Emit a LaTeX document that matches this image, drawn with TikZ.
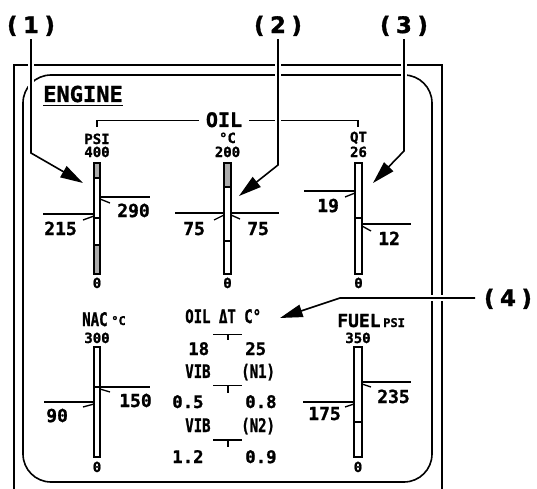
\documentclass[tikz,border=0pt]{standalone}
\usepackage{fontspec}
\newfontfamily\panelfont[BoldFeatures={FakeBold=1.2}]{DejaVu Sans Mono}
\newfontfamily\panelnarrow[FakeStretch=0.75,BoldFeatures={FakeBold=1.2}]{DejaVu Sans Mono}
\newfontfamily\labfont[BoldFeatures={FakeBold=1.5}]{DejaVu Sans}
\usetikzlibrary{arrows.meta}
\begin{document}
\begin{tikzpicture}[x=0.75pt,y=-0.75pt,
  fr/.style={line width=1.2pt},
  thin/.style={line width=1pt},
  halo/.style={draw=white,line width=5pt},
  leader/.style={line width=1.2pt,-{Triangle[length=17pt,width=9.5pt]}},
  lab/.style={font=\labfont\bfseries\fontsize{17}{19}\selectfont,inner sep=0pt,anchor=base},
  num/.style={font=\panelfont\bfseries\fontsize{13.5}{15}\selectfont,inner sep=0pt,anchor=base west},
  sml/.style={font=\panelfont\bfseries\fontsize{10.5}{11}\selectfont,inner sep=0pt,anchor=base},
  mid/.style={font=\panelfont\bfseries\fontsize{13}{14}\selectfont,inner sep=0pt,anchor=base west},
  midn/.style={font=\panelnarrow\bfseries\fontsize{14}{15}\selectfont,inner sep=0pt,anchor=base west},
  bar/.style={draw,line width=0.8pt,fill=white},
  shade/.style={draw,line width=0.8pt,fill=gray!65},
]
\useasboundingbox (0,0) rectangle (537,489);
% frames
\draw[fr] (14,489) -- (14,65) -- (442,65) -- (442,489);
\draw[fr,rounded corners=21pt] (23,75) rectangle (432,482);
% ENGINE title
\node[font=\panelfont\bfseries\fontsize{16.5}{18}\selectfont,inner sep=0pt,anchor=base west] (eng) at (43,102) {ENGINE};
\draw[thin] ([yshift=-2.5pt]eng.base west) -- ([yshift=-2.5pt]eng.base east);
% OIL bracket
\draw[thin] (97,127) -- (97,120.5) -- (358,120.5) -- (358,127);
\node[font=\panelfont\bfseries\fontsize{15}{16}\selectfont,fill=white,inner xsep=5pt,inner ysep=0pt,anchor=base] (oil) at (224,127) {OIL};

% ---- Gauge 1 : PSI
\node[sml] (g1u) at (97,144) {PSI};
\node[sml] (g1m) at (97,157) {400};
\draw[bar] (94,163) rectangle (100,274);
\draw[shade] (94,163) rectangle (100,178);
\draw[shade] (94,245) rectangle (100,274);
\draw[thin] (94,218) -- (100,218);
\node[sml] (g1z) at (97,288) {0};
\draw[thin] (43,214) -- (94,214);
\draw[thin] (94,216) -- (83,220);
\node[num] (v215) at (44,235) {215};
\draw[thin] (100,197) -- (150,197);
\draw[thin] (100,199) -- (110,203);
\node[num] (v290) at (117,217) {290};

% ---- Gauge 2 : oil temp
\node[sml] (g2u) at (227.5,143) {°C};
\node[sml] (g2m) at (227.5,157) {200};
\draw[bar] (224,163) rectangle (231,274);
\draw[shade] (224,163) rectangle (231,187);
\draw[thin] (224,241) -- (231,241);
\node[sml] (g2z) at (227.5,288) {0};
\draw[thin] (175,213) -- (224,213);
\draw[thin] (231,213) -- (279,213);
\draw[thin] (224,215) -- (214,220);
\draw[thin] (231,215) -- (240,219);
\node[num] (v75a) at (183,235) {75};
\node[num] (v75b) at (247,235) {75};

% ---- Gauge 3 : QT
\node[sml] (g3u) at (358.5,142) {QT};
\node[sml] (g3m) at (358.5,157) {26};
\draw[bar] (355,163) rectangle (362,274);
\draw[thin] (355,218) -- (362,218);
\node[sml] (g3z) at (358.5,288) {0};
\draw[thin] (304,191) -- (355,191);
\draw[thin] (355,193) -- (345,197);
\node[num] (v19) at (317,212) {19};
\draw[thin] (362,224) -- (411,224);
\draw[thin] (362,226) -- (371,231);
\node[num] (v12) at (378,245) {12};

% ---- Gauge 4 : NAC
\node[font=\panelnarrow\bfseries\fontsize{14}{15}\selectfont,inner sep=0pt,anchor=base west] (nac) at (82,326) {NAC};
\node[font=\panelfont\bfseries\fontsize{9}{10}\selectfont,inner sep=0pt,anchor=base west] (nacu) at (111,325) {°C};
\node[sml] (g4m) at (97,343) {300};
\draw[bar] (94,347) rectangle (100,457);
\draw[thin] (94,387) -- (100,387);
\node[sml] (g4z) at (97,472) {0};
\draw[thin] (44,402) -- (94,402);
\draw[thin] (94,404) -- (83,407);
\node[num] (v90) at (46,422) {90};
\draw[thin] (100,387) -- (150,387);
\draw[thin] (100,389) -- (110,392);
\node[num] (v150) at (119,407) {150};

% ---- Gauge 5 : FUEL
\node[font=\panelfont\bfseries\fontsize{13.5}{15}\selectfont,inner sep=0pt,anchor=base west] (fuel) at (337,327) {FUEL};
\node[font=\panelfont\bfseries\fontsize{9}{10}\selectfont,inner sep=0pt,anchor=base west] (fuelu) at (383,327) {PSI};
\node[sml] (g5m) at (358,343) {350};
\draw[bar] (354,347) rectangle (362,457);
\draw[thin] (354,422) -- (362,422);
\node[sml] (g5z) at (358,472) {0};
\draw[thin] (303,402) -- (354,402);
\draw[thin] (354,404) -- (345,407);
\node[num] (v175) at (308,420) {175};
\draw[thin] (362,382) -- (411,382);
\draw[thin] (362,384) -- (371,387);
\node[num] (v235) at (377,403) {235};

% ---- middle block
\node[midn] (dt) at (185,323) {OIL ΔT C°};
\draw[thin] (213,334.5) -- (242,334.5);
\draw[thin] (228,334.5) -- (228,339.5);
\node[mid] (d18) at (188,355) {18};
\node[mid] (d25) at (245,355) {25};
\node[midn] (vib1) at (185,378) {VIB};
\node[midn] (n1) at (241,378) {(N1)};
\draw[thin] (213,385.5) -- (242,385.5);
\draw[thin] (228,385.5) -- (228,392.5);
\node[mid] (a05) at (172,408) {0.5};
\node[mid] (a08) at (245,408) {0.8};
\node[midn] (vib2) at (185,432) {VIB};
\node[midn] (n2) at (241,432) {(N2)};
\draw[thin] (213,440) -- (242,440);
\draw[thin] (228,440) -- (228,446.5);
\node[mid] (a12) at (172,463) {1.2};
\node[mid] (a09) at (245,463) {0.9};

% ---- callouts
\node[lab] (L1) at (31,33) {(\hspace{.25em}1\hspace{.25em})};
\node[lab] (L2) at (278,33) {(\hspace{.25em}2\hspace{.25em})};
\node[lab] (L3) at (404,33) {(\hspace{.25em}3\hspace{.25em})};
\node[lab] (L4) at (508,306) {(\hspace{.25em}4\hspace{.25em})};
\coordinate (s1) at (31,39);  \coordinate (b1) at (31,153);  \coordinate (t1) at (83,183);
\coordinate (s2) at (278,39); \coordinate (b2) at (278,165); \coordinate (t2) at (239,196);
\coordinate (s3) at (404,39); \coordinate (b3) at (404,151); \coordinate (t3) at (373,183);
\coordinate (s4) at (475,298); \coordinate (b4) at (340,298); \coordinate (t4) at (280,318);
\draw[halo] (s1) -- (b1);
\draw[halo] (s2) -- (b2);
\draw[halo] (s3) -- (b3);
\draw[halo] (s4) -- (b4);
\draw[leader] (s1) -- (b1) -- (t1);
\draw[leader] (s2) -- (b2) -- (t2);
\draw[leader] (s3) -- (b3) -- (t3);
\draw[leader] (s4) -- (b4) -- (t4);
\end{tikzpicture}
\end{document}
